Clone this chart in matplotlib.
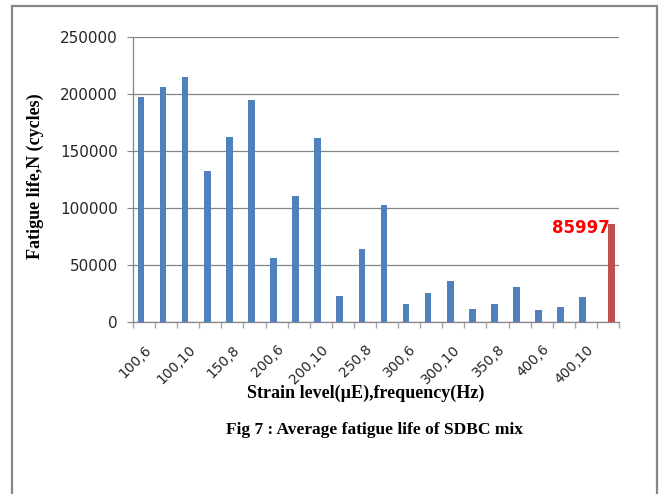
import matplotlib
matplotlib.use("Agg")
import matplotlib.pyplot as plt
import numpy as np
from matplotlib.patches import Rectangle

# Strain level (microstrain), loading frequency (Hz)
categories = ["100,6", "100,8", "100,10", "150,6", "150,8", "150,10",
              "200,6", "200,8", "200,10", "250,6", "250,8", "250,10",
              "300,6", "300,8", "300,10", "350,6", "350,8", "350,10",
              "400,6", "400,8", "400,10", "Average"]
fatigue_life = [197500, 206300, 215100, 132500, 162400, 194900,
                56000, 110500, 161500, 22600, 63900, 102600,
                15400, 25000, 35600, 11000, 15400, 30300,
                10100, 12700, 21500]
average_life = 85997
y_ticks = [0, 50000, 100000, 150000, 200000, 250000]

blue = "#4F81BD"
red = "#C0504D"
grid_gray = "#868686"

fig = plt.figure(figsize=(6.62, 4.94), dpi=100)
fig.patch.set_facecolor("white")

# outer frame
fig.patches.append(Rectangle((12 / 662, -0.05), (657 - 12) / 662, (494 - 6) / 494 + 0.05,
                             transform=fig.transFigure, fill=False,
                             edgecolor="#878787", linewidth=1.6))

ax = fig.add_axes([133 / 662, 1 - 321.5 / 494, (619 - 133) / 662, (321.5 - 37.3) / 494])

n = len(categories)
x = np.arange(n)
bar_w = 0.3
ax.bar(x[:len(fatigue_life)] - 0.14, fatigue_life, width=bar_w, color=blue, zorder=3)
ax.bar(x[-1] + 0.15, average_life, width=bar_w, color=red, zorder=3)

ax.annotate(str(average_life), xy=(x[-1], average_life), xytext=(1.5, -3),
            textcoords="offset points", ha="right", va="center",
            color="#FF0000", fontsize=12, fontweight="bold", zorder=4)

ax.set_xlim(-0.5, n - 0.5)
ax.set_ylim(0, 250000)
ax.set_yticks(y_ticks)
ax.set_yticklabels([str(v) for v in y_ticks], fontsize=11, color="#262626")
ax.yaxis.grid(True, color=grid_gray, linewidth=0.9, zorder=0)
ax.tick_params(axis="y", length=4, color=grid_gray, pad=7, direction="out")

# category boundaries as tick marks, every other category labelled
ax.set_xticks(np.arange(-0.5, n, 1.0))
ax.set_xticklabels([])
ax.tick_params(axis="x", which="major", length=4, color="#A6A6A6", width=1)
label_idx = list(range(0, n, 2))
ax.set_xticks(label_idx, minor=True)
ax.set_xticklabels([categories[i] for i in label_idx], minor=True,
                   rotation=45, ha="right", rotation_mode="anchor",
                   fontsize=10, color="#262626")
ax.tick_params(axis="x", which="minor", length=0, pad=15)

for side in ("top", "right"):
    ax.spines[side].set_visible(False)
for side in ("left", "bottom"):
    ax.spines[side].set_color(grid_gray)
    ax.spines[side].set_linewidth(0.9)

serif = ["Liberation Serif", "DejaVu Serif"]
fig.text(35 / 662, 1 - 176 / 494, "Fatigue life,N (cycles)", rotation=90,
         ha="center", va="center", fontsize=13, fontweight="bold", family=serif)
fig.text(366 / 662, 1 - 393 / 494, "Strain level(µE),frequency(Hz)",
         ha="center", va="center", fontsize=13, fontweight="bold", family=serif)
fig.text(375 / 662, 1 - 430 / 494, "Fig 7 : Average fatigue life of SDBC mix",
         ha="center", va="center", fontsize=12.5, fontweight="bold", family=serif)

fig.savefig("out.png", dpi=100)
